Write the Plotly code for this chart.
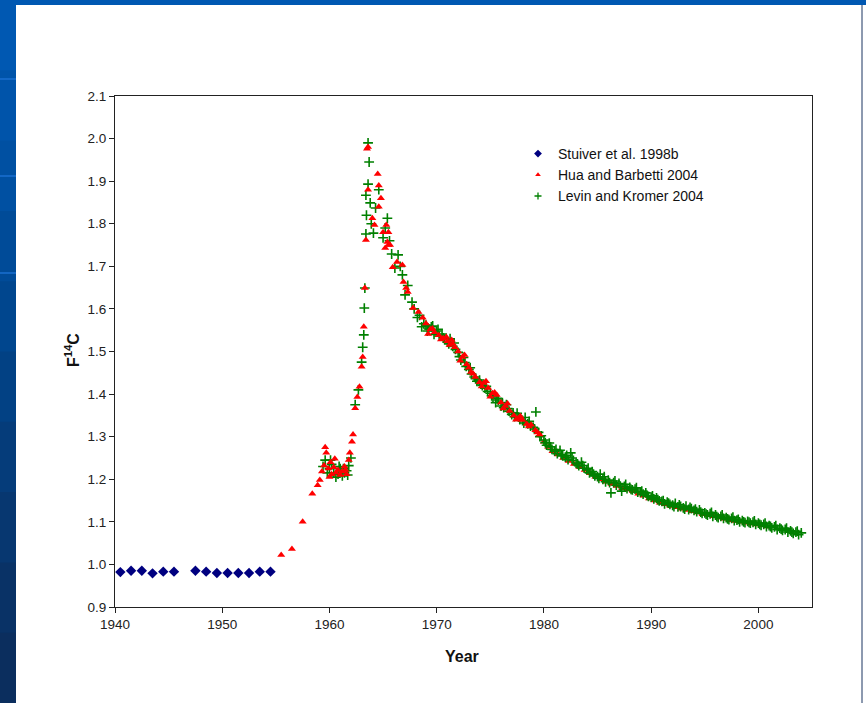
import plotly.graph_objects as go

# ---------------- data ----------------
stuiver_year = [1940.5, 1941.5, 1942.5, 1943.5, 1944.5, 1945.5, 1947.5, 1948.5,
                1949.5, 1950.5, 1951.5, 1952.5, 1953.5, 1954.5]
stuiver_f14c = [0.982, 0.985, 0.985, 0.979, 0.983, 0.983, 0.985, 0.983,
                0.980, 0.980, 0.980, 0.980, 0.983, 0.983]

hua_year = [1955.5, 1956.5, 1957.5, 1958.4, 1958.9, 1959.1, 1959.3, 1959.5, 1959.6, 1959.7,
            1959.9, 1960.0, 1960.1, 1960.2, 1960.4, 1960.5, 1960.6, 1960.8, 1961.0, 1961.2,
            1961.4, 1961.5, 1961.6, 1961.8, 1961.9, 1962.1, 1962.2, 1962.4, 1962.6, 1962.8,
            1963.0, 1963.1, 1963.2, 1963.3, 1963.4, 1963.5, 1963.6, 1963.6, 1964.0, 1964.2,
            1964.5, 1964.6, 1964.8, 1964.6, 1965.0, 1965.5, 1965.4, 1965.5, 1965.2, 1965.65,
            1965.3, 1966.3, 1965.9, 1966.8, 1966.9, 1967.15, 1967.3, 1967.8, 1968.3, 1968.7,
            1969.0, 1969.4, 1969.8, 1970.2, 1970.6, 1971.0, 1971.4, 1971.7, 1972.0, 1972.4,
            1972.8, 1973.2, 1973.6, 1974.0, 1974.4, 1974.8, 1975.2, 1975.6, 1976.0, 1976.4,
            1976.8, 1977.2, 1977.6, 1978.0, 1978.4, 1978.8, 1979.2, 1979.6, 1980.0, 1980.4,
            1980.8, 1981.3, 1981.8, 1982.3, 1982.8, 1983.3, 1983.8, 1984.3, 1984.8, 1985.3,
            1985.8, 1986.3, 1986.8, 1987.3, 1987.8, 1988.3, 1988.8, 1989.3, 1989.8, 1990.3,
            1990.8, 1991.3, 1991.8, 1992.3, 1992.8, 1993.3, 1993.8, 1994.3, 1994.8, 1995.3,
            1995.8, 1996.3, 1996.8, 1997.3, 1997.8, 1998.3, 1998.8, 1999.3, 1999.8, 2000.3,
            2000.8,
            1969.2, 1969.6, 1970.4, 1970.9, 1971.2, 1971.5, 1972.2, 1972.6, 1973.0, 1973.4,
            1974.2, 1974.6, 1975.0, 1975.4, 1976.2, 1976.6, 1977.4, 1977.8, 1978.6, 1979.4]
hua_f14c = [1.022, 1.036, 1.100, 1.166, 1.186, 1.198, 1.218, 1.232, 1.275, 1.262,
            1.225, 1.205, 1.240, 1.212, 1.228, 1.248, 1.215, 1.222, 1.210, 1.218,
            1.230, 1.222, 1.212, 1.245, 1.262, 1.288, 1.305, 1.367, 1.393, 1.417,
            1.464, 1.487, 1.558, 1.649, 1.762, 1.976, 1.980, 1.880, 1.813, 1.797,
            1.917, 1.890, 1.860, 1.840, 1.780, 1.780, 1.757, 1.750, 1.743, 1.750,
            1.797, 1.710, 1.698, 1.703, 1.663, 1.649, 1.640, 1.602, 1.593, 1.579,
            1.566, 1.552, 1.545, 1.538, 1.531, 1.524, 1.527, 1.510, 1.500, 1.487,
            1.470, 1.452, 1.440, 1.428, 1.426, 1.414, 1.402, 1.398, 1.380, 1.372,
            1.360, 1.350, 1.343, 1.339, 1.330, 1.328, 1.315, 1.305, 1.288, 1.276,
            1.266, 1.258, 1.250, 1.243, 1.236, 1.229, 1.222, 1.214, 1.206, 1.200,
            1.194, 1.189, 1.184, 1.179, 1.176, 1.172, 1.166, 1.161, 1.155, 1.150,
            1.145, 1.141, 1.137, 1.134, 1.131, 1.128, 1.125, 1.122, 1.118, 1.116,
            1.113, 1.110, 1.107, 1.104, 1.102, 1.100, 1.098, 1.096, 1.094, 1.092,
            1.089,
            1.541, 1.554, 1.528, 1.534, 1.515, 1.518, 1.478, 1.492, 1.462, 1.448,
            1.418, 1.430, 1.394, 1.404, 1.366, 1.378, 1.340, 1.348, 1.324, 1.310]

levin_year = [1959.4, 1959.6, 1959.8, 1960.0, 1960.2, 1960.4, 1960.6, 1960.8, 1961.0, 1961.2,
              1961.4, 1961.6, 1961.8, 1962.0, 1962.4, 1962.7, 1963.0, 1963.1, 1963.2, 1963.25,
              1963.3, 1963.4, 1963.45, 1963.4, 1963.6, 1963.7, 1963.6, 1963.8, 1964.3, 1964.1,
              1965.0, 1965.4, 1965.8, 1966.4, 1966.1, 1966.6, 1967.05, 1967.7, 1968.2, 1968.6,
              1969.00, 1969.25, 1969.50, 1969.75, 1970.00, 1970.25, 1970.50, 1970.75,
              1971.00, 1971.25, 1971.50, 1971.75, 1972.00, 1972.25, 1972.50, 1972.75,
              1973.00, 1973.25, 1973.50, 1973.75, 1974.00, 1974.25, 1974.50, 1974.75,
              1975.00, 1975.25, 1975.50, 1975.75, 1976.00, 1976.25, 1976.50, 1976.75,
              1977.00, 1977.25, 1977.50, 1977.75, 1978.00, 1978.25, 1978.50, 1978.75,
              1979.00, 1979.25, 1979.50, 1979.75, 1980.00, 1980.25, 1980.50, 1980.75,
              1981.00, 1981.25, 1981.50, 1981.75, 1982.00, 1982.25, 1982.50, 1982.75,
              1983.00, 1983.25, 1983.50, 1983.75, 1984.00, 1984.25, 1984.50, 1984.75,
              1985.00, 1985.25, 1985.50, 1985.75, 1986.00, 1986.25, 1986.50, 1986.75,
              1987.00, 1987.25, 1987.50, 1987.75, 1988.00, 1988.25, 1988.50, 1988.75,
              1989.00, 1989.25, 1989.50, 1989.75, 1990.00, 1990.25, 1990.50, 1990.75,
              1991.00, 1991.25, 1991.50, 1991.75, 1992.00, 1992.25, 1992.50, 1992.75,
              1993.00, 1993.25, 1993.50, 1993.75, 1994.00, 1994.25, 1994.50, 1994.75,
              1995.00, 1995.25, 1995.50, 1995.75, 1996.00, 1996.25, 1996.50, 1996.75,
              1997.00, 1997.25, 1997.50, 1997.75, 1998.00, 1998.25, 1998.50, 1998.75,
              1999.00, 1999.25, 1999.50, 1999.75, 2000.00, 2000.25, 2000.50, 2000.75,
              2001.00, 2001.25, 2001.50, 2001.75, 2002.00, 2002.25, 2002.50, 2002.75,
              2003.00, 2003.25, 2003.50, 2003.75, 2004.00,
              1969.125, 1969.625, 1970.125, 1970.625, 1971.125, 1971.625, 1972.125, 1972.625,
              1973.125, 1973.625, 1974.125, 1974.625, 1975.125, 1975.625, 1976.125, 1976.625,
              1977.125, 1977.625, 1978.125, 1978.625, 1979.125, 1979.625, 1980.125, 1980.625,
              1981.125, 1981.625, 1982.125, 1982.625, 1983.125, 1983.625, 1984.125, 1984.625,
              1985.125, 1985.625, 1986.125, 1986.625, 1987.125, 1987.625, 1988.125, 1988.625,
              1989.125, 1989.625, 1990.125, 1990.625, 1991.125, 1991.625, 1992.125, 1992.625,
              1993.125, 1993.625, 1994.125, 1994.625, 1995.125, 1995.625, 1996.125, 1996.625,
              1997.125, 1997.625, 1998.125, 1998.625, 1999.125, 1999.625, 2000.125, 2000.625,
              2001.125, 2001.625, 2002.125, 2002.625, 2003.125, 2003.625,
              1960.1, 1960.9, 1961.3, 1961.7, 1963.9, 1964.6, 1965.2, 1965.6, 1966.8, 1967.3,
              1967.9, 1968.4, 1968.8]
levin_f14c = [1.230, 1.245, 1.215, 1.225, 1.235, 1.215, 1.205, 1.212, 1.225, 1.208,
              1.215, 1.220, 1.232, 1.250, 1.375, 1.410, 1.475, 1.510, 1.539, 1.602,
              1.649, 1.776, 1.820, 1.867, 1.893, 1.945, 1.990, 1.849, 1.837, 1.778,
              1.767, 1.813, 1.729, 1.727, 1.696, 1.700, 1.633, 1.616, 1.580, 1.558,
              1.562, 1.553, 1.558, 1.540, 1.548, 1.536, 1.541, 1.529,
              1.522, 1.530, 1.512, 1.505, 1.498, 1.480, 1.486, 1.465,
              1.458, 1.447, 1.440, 1.430, 1.433, 1.420, 1.414, 1.406,
              1.402, 1.393, 1.380, 1.386, 1.372, 1.368, 1.375, 1.360,
              1.352, 1.347, 1.355, 1.340, 1.338, 1.345, 1.330, 1.325,
              1.322, 1.358, 1.310, 1.302, 1.292, 1.280, 1.285, 1.270,
              1.266, 1.260, 1.268, 1.255, 1.252, 1.246, 1.262, 1.244,
              1.238, 1.232, 1.240, 1.226, 1.222, 1.215, 1.218, 1.208,
              1.206, 1.212, 1.200, 1.194, 1.198, 1.168, 1.192, 1.186,
              1.190, 1.172, 1.183, 1.178, 1.181, 1.175, 1.177, 1.170,
              1.169, 1.165, 1.168, 1.160, 1.158, 1.154, 1.156, 1.149,
              1.148, 1.142, 1.146, 1.141, 1.139, 1.143, 1.135, 1.136,
              1.133, 1.137, 1.129, 1.131, 1.127, 1.124, 1.128, 1.120,
              1.121, 1.116, 1.119, 1.113, 1.116, 1.110, 1.113, 1.108,
              1.110, 1.105, 1.108, 1.103, 1.104, 1.100, 1.103, 1.098,
              1.101, 1.097, 1.099, 1.094, 1.097, 1.092, 1.094, 1.089,
              1.091, 1.086, 1.088, 1.082, 1.085, 1.080, 1.082, 1.076,
              1.079, 1.073, 1.076, 1.070, 1.074,
              1.548, 1.560, 1.552, 1.532, 1.518, 1.520, 1.488, 1.474,
              1.462, 1.436, 1.424, 1.418, 1.396, 1.390, 1.380, 1.366,
              1.356, 1.346, 1.332, 1.336, 1.318, 1.300, 1.286, 1.276,
              1.270, 1.258, 1.256, 1.250, 1.236, 1.232, 1.226, 1.212,
              1.202, 1.206, 1.192, 1.196, 1.184, 1.188, 1.176, 1.180,
              1.172, 1.162, 1.161, 1.152, 1.150, 1.144, 1.136, 1.140,
              1.130, 1.134, 1.130, 1.123, 1.118, 1.122, 1.112, 1.116,
              1.107, 1.111, 1.106, 1.100, 1.099, 1.102, 1.094, 1.097,
              1.089, 1.091, 1.083, 1.085, 1.076, 1.078,
              1.245, 1.230, 1.225, 1.210, 1.800, 1.880, 1.790, 1.760, 1.680, 1.655,
              1.600, 1.585, 1.565]

x_ticks = [1940, 1950, 1960, 1970, 1980, 1990, 2000]
y_ticks = [0.9, 1.0, 1.1, 1.2, 1.3, 1.4, 1.5, 1.6, 1.7, 1.8, 1.9, 2.0, 2.1]
series_names = ["Stuiver et al. 1998b", "Hua and Barbetti 2004", "Levin and Kromer 2004"]

# ---------------- figure ----------------
W, H = 866, 703
L, R, T, B = 115, 54, 96, 96
pw, ph = W - L - R, H - T - B


def px(xp):
    return (xp - L) / pw


def py(yp):
    return (H - B - yp) / ph


navy, red, green = "#000080", "#FF0000", "#008000"
hua_late = [(x, y) for x, y in zip(hua_year, hua_f14c) if x >= 1980]
hua_early = [(x, y) for x, y in zip(hua_year, hua_f14c) if x < 1980]

fig = go.Figure()
fig.add_trace(go.Scatter(x=stuiver_year, y=stuiver_f14c, mode="markers", showlegend=False,
                         marker=dict(symbol="diamond", size=8, color=navy)))
fig.add_trace(go.Scatter(x=[p[0] for p in hua_late], y=[p[1] for p in hua_late], mode="markers",
                         showlegend=False, marker=dict(symbol="triangle-up", size=7, color=red)))
fig.add_trace(go.Scatter(x=levin_year, y=levin_f14c, mode="markers", showlegend=False,
                         marker=dict(symbol="cross-thin-open", size=7, color=green,
                                     line=dict(color=green, width=1.6))))
fig.add_trace(go.Scatter(x=[p[0] for p in hua_early], y=[p[1] for p in hua_early], mode="markers",
                         showlegend=False, marker=dict(symbol="triangle-up", size=7, color=red)))

# legend entries (small symbols, like the reference)
fig.add_trace(go.Scatter(x=[None], y=[None], mode="markers", name=series_names[0],
                         marker=dict(symbol="diamond", size=6, color=navy)))
fig.add_trace(go.Scatter(x=[None], y=[None], mode="markers", name=series_names[1],
                         marker=dict(symbol="triangle-up", size=5, color=red)))
fig.add_trace(go.Scatter(x=[None], y=[None], mode="markers", name=series_names[2],
                         marker=dict(symbol="cross-thin-open", size=5, color=green,
                                     line=dict(color=green, width=1.3))))

font_family = "Liberation Sans, Arial, sans-serif"

fig.update_layout(
    width=W, height=H,
    margin=dict(l=L, r=R, t=T, b=B),
    paper_bgcolor="white", plot_bgcolor="white",
    font=dict(family=font_family, size=13, color="#222222"),
    showlegend=True,
    legend=dict(x=px(518), y=py(138), xanchor="left", yanchor="top",
                bgcolor="rgba(0,0,0,0)", font=dict(size=14, color="#111111"),
                itemwidth=30, tracegroupgap=0),
    xaxis=dict(range=[1940, 2005], tickvals=x_ticks, ticks="outside", ticklen=5,
               tickcolor="#222", showline=True, linecolor="#222", linewidth=1, mirror=True,
               showgrid=False, zeroline=False, tickfont=dict(size=13.5)),
    yaxis=dict(range=[0.9, 2.1], tickvals=y_ticks, tickformat=".1f", ticks="outside",
               ticklen=5, tickcolor="#222", showline=True, linecolor="#222", linewidth=1,
               mirror=True, showgrid=False, zeroline=False, tickfont=dict(size=13.5)),
)

# axis titles
fig.add_annotation(text="<b>Year</b>", x=px(462), y=py(657), xref="paper", yref="paper",
                   xanchor="center", yanchor="middle",
                   showarrow=False, font=dict(size=16, color="#111"))
fig.add_annotation(text="<b>F<sup>14</sup>C</b>", x=px(72), y=py(350), xref="paper", yref="paper",
                   xanchor="center", yanchor="middle",
                   showarrow=False, textangle=-90, font=dict(size=16, color="#111"))

# slide frame: top band and left gradient band
shapes = []
shapes.append(dict(type="rect", xref="paper", yref="paper", x0=px(0), x1=px(W), y0=py(5), y1=py(0),
                   fillcolor="#0058B2", line=dict(width=0), layer="above"))
band_cols = ["#0058B2", "#0054AA", "#0050A2", "#004B98", "#00468E", "#024184", "#053C7A",
             "#073770", "#093266", "#0B2E5E"]
n = len(band_cols)
for i, c in enumerate(band_cols):
    y0p = i * H / n
    y1p = min(H, (i + 1) * H / n + 2)
    shapes.append(dict(type="rect", xref="paper", yref="paper", x0=px(0), x1=px(16),
                       y0=py(y1p), y1=py(y0p), fillcolor=c, line=dict(width=0), layer="above"))
for yl in [79, 176, 273]:
    shapes.append(dict(type="line", xref="paper", yref="paper", x0=px(0), x1=px(16),
                       y0=py(yl), y1=py(yl), line=dict(color="#1A6FD0", width=1.5), layer="above"))
shapes.append(dict(type="line", xref="paper", yref="paper", x0=px(862), x1=px(862),
                   y0=py(H), y1=py(5), line=dict(color="#1B3560", width=1), layer="above"))
fig.update_layout(shapes=shapes)

fig.write_html("out.html", config={"displayModeBar": False},
               post_script="document.body.style.margin='0';document.body.style.overflow='hidden';")
